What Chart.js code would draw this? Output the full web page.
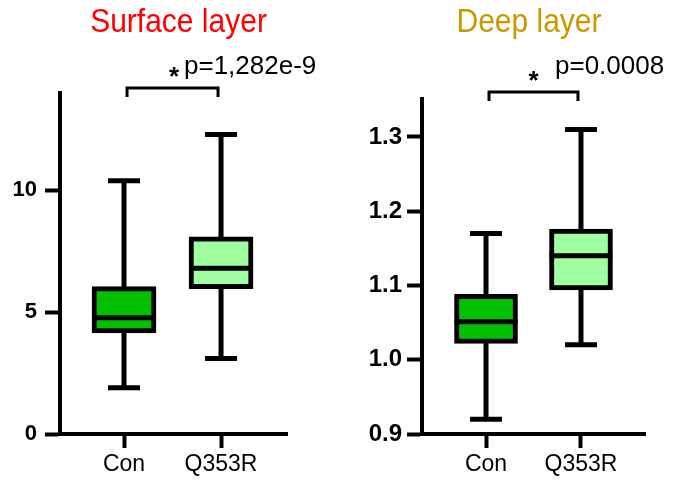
<!DOCTYPE html>
<html>
<head>
<meta charset="utf-8">
<script src="https://cdn.jsdelivr.net/npm/chart.js@4/dist/chart.umd.min.js"></script>
<style>
  body { margin: 0; background: #fff; }
  .panel { position: absolute; top: 0; height: 484px; }
</style>
</head>
<body>
<div class="panel" style="left:0;width:330px"><canvas id="surface"></canvas></div>
<div class="panel" style="left:340px;width:345px"><canvas id="deep"></canvas></div>
<script>
// groups
const categories = ['Con', 'Q353R'];
const boxColors = ['#00C000', '#A0FFA0'];

// surface layer: min, q1, median, q3, max per group
const surfaceMin = [1.9, 3.1];
const surfaceQ1 = [4.15, 5.97];
const surfaceMedian = [4.77, 6.8];
const surfaceQ3 = [6.05, 8.1];
const surfaceMax = [10.4, 12.3];
const surfaceTicks = [0, 5, 10];

// deep layer
const deepMin = [0.92, 1.02];
const deepQ1 = [1.022, 1.094];
const deepMedian = [1.051, 1.14];
const deepQ3 = [1.088, 1.176];
const deepMax = [1.17, 1.31];
const deepTicks = [0.9, 1.0, 1.1, 1.2, 1.3];

const FONT = 'Arial, "Liberation Sans", sans-serif';
Chart.defaults.font.family = FONT;
Chart.defaults.color = '#000';

// whiskers, medians, title and p-value bracket
const boxPlugin = {
  id: 'boxPlugin',
  beforeDatasetsDraw(chart, args, opts) {
    const ctx = chart.ctx, x = chart.scales.x, y = chart.scales.y;
    ctx.save();
    ctx.strokeStyle = '#000';
    ctx.lineWidth = 5;
    opts.min.forEach((v, i) => {
      const px = x.getPixelForValue(i);
      ctx.beginPath();
      ctx.moveTo(px, y.getPixelForValue(opts.min[i]));
      ctx.lineTo(px, y.getPixelForValue(opts.max[i]));
      [opts.min[i], opts.max[i]].forEach(w => {
        const py = y.getPixelForValue(w);
        ctx.moveTo(px - opts.cap / 2, py);
        ctx.lineTo(px + opts.cap / 2, py);
      });
      ctx.stroke();
    });
    ctx.restore();
  },
  afterDatasetsDraw(chart, args, opts) {
    const ctx = chart.ctx, x = chart.scales.x, y = chart.scales.y;
    ctx.save();
    ctx.strokeStyle = '#000';
    ctx.lineWidth = 5;
    opts.median.forEach((m, i) => {
      const px = x.getPixelForValue(i);
      const py = y.getPixelForValue(m);
      ctx.beginPath();
      ctx.moveTo(px - opts.box / 2, py);
      ctx.lineTo(px + opts.box / 2, py);
      ctx.stroke();
    });
    // bracket
    const bx1 = x.getPixelForValue(0) + 3, bx2 = x.getPixelForValue(1) - 3;
    const by = opts.bracketY;
    ctx.lineWidth = 3;
    ctx.beginPath();
    ctx.moveTo(bx1, by + 9);
    ctx.lineTo(bx1, by);
    ctx.lineTo(bx2, by);
    ctx.lineTo(bx2, by + 9);
    ctx.stroke();
    // star + p value
    ctx.fillStyle = '#000';
    ctx.textAlign = 'center';
    ctx.textBaseline = 'alphabetic';
    ctx.font = 'bold 26px ' + FONT;
    ctx.fillText('*', opts.starX, opts.starY);
    ctx.textAlign = 'left';
    ctx.font = '26px ' + FONT;
    ctx.fillText(opts.pText, opts.pX, 74);
    // title, a bit taller than wide like the original
    ctx.textAlign = 'center';
    ctx.font = '30px ' + FONT;
    ctx.fillStyle = opts.titleColor;
    ctx.translate(opts.titleX, 32);
    ctx.scale(1, 1.12);
    ctx.fillText(opts.title, 0, 0);
    ctx.restore();
  }
};

function makeChart(id, cfg) {
  const data = categories.map((c, i) => ({ x: i, y: [cfg.q1[i], cfg.q3[i]] }));
  return new Chart(document.getElementById(id), {
    type: 'bar',
    data: {
      datasets: [{
        data: data,
        backgroundColor: boxColors,
        borderColor: '#000',
        borderWidth: 5,
        borderSkipped: false,
        barThickness: cfg.box
      }]
    },
    options: {
      responsive: true,
      maintainAspectRatio: false,
      animation: false,
      events: [],
      layout: { padding: { top: cfg.top, right: cfg.right, left: 0, bottom: 0 } },
      plugins: {
        legend: { display: false },
        tooltip: { enabled: false },
        boxPlugin: {
          min: cfg.min, max: cfg.max, median: cfg.median,
          cap: 32, box: cfg.box,
          bracketY: cfg.bracketY,
          starX: cfg.starX, starY: cfg.starY,
          pText: cfg.pText, pX: cfg.pX,
          title: cfg.title, titleColor: cfg.titleColor, titleX: cfg.titleX
        }
      },
      scales: {
        x: {
          type: 'linear',
          offset: false,
          min: cfg.xMin, max: cfg.xMax,
          afterBuildTicks: s => { s.ticks = categories.map((c, i) => ({ value: i })); },
          afterFit: s => { s.height = 50; },
          ticks: {
            callback: v => categories[v],
            font: { size: 23 },
            padding: 3,
            maxRotation: 0,
            autoSkip: false
          },
          grid: { offset: false, drawOnChartArea: false, drawTicks: true, tickLength: 14, tickWidth: 4, color: '#000' },
          border: { display: true, width: 4, color: '#000' }
        },
        y: {
          min: cfg.yMin, max: cfg.yMax,
          afterBuildTicks: s => { s.ticks = cfg.ticks.map(v => ({ value: v })); },
          afterFit: s => { s.width = cfg.left; },
          ticks: {
            callback: v => cfg.decimals ? v.toFixed(1) : String(v),
            font: { size: cfg.tickSize, weight: 'bold' },
            padding: cfg.tickPad
          },
          grid: { drawOnChartArea: false, drawTicks: true, tickLength: 15, tickWidth: 4, color: '#000' },
          border: { display: true, width: 4, color: '#000' }
        }
      }
    },
    plugins: [boxPlugin]
  });
}

makeChart('surface', {
  q1: surfaceQ1, q3: surfaceQ3, min: surfaceMin, max: surfaceMax, median: surfaceMedian,
  ticks: surfaceTicks, yMin: 0, yMax: 14, decimals: false, tickSize: 22, tickPad: 8,
  xMin: -0.66, xMax: 1.68, box: 64,
  top: 93, right: 43, left: 60,
  bracketY: 88, starX: 174, starY: 85,
  pText: 'p=1,282e-9', pX: 184,
  title: 'Surface layer', titleColor: '#FF0000', titleX: 178.5
});

makeChart('deep', {
  q1: deepQ1, q3: deepQ3, min: deepMin, max: deepMax, median: deepMedian,
  ticks: deepTicks, yMin: 0.9, yMax: 1.351, decimals: true, tickSize: 24, tickPad: 5,
  xMin: -0.674, xMax: 1.674, box: 63,
  top: 99, right: 40, left: 82,
  bracketY: 92, starX: 193.5, starY: 88.5,
  pText: 'p=0.0008', pX: 215,
  title: 'Deep layer', titleColor: '#C89A00', titleX: 189
});
</script>
</body>
</html>
